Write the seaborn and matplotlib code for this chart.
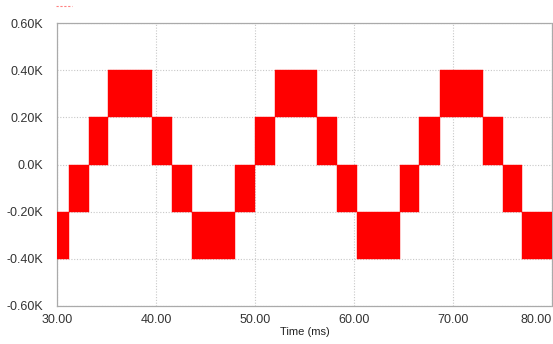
import matplotlib
matplotlib.use("Agg")
import matplotlib.pyplot as plt
import seaborn as sns
import numpy as np
from matplotlib.lines import Line2D

# Data (time in ms, values in K units)
t_edges = [30.0, 31.2, 33.2, 35.2, 39.6, 41.6, 43.6, 48.0, 50.0, 52.0,
           56.3, 58.3, 60.3, 64.6, 66.6, 68.7, 73.0, 75.0, 77.0, 80.0]
lower_level = [-0.4, -0.2, 0.0, 0.2, 0.0, -0.2, -0.4, -0.2, 0.0, 0.2,
               0.0, -0.2, -0.4, -0.2, 0.0, 0.2, 0.0, -0.2, -0.4]
band_height = 0.2
x_ticks = [30, 40, 50, 60, 70, 80]
x_tick_labels = ["30.00", "40.00", "50.00", "60.00", "70.00", "80.00"]
y_ticks = [-0.6, -0.4, -0.2, 0.0, 0.2, 0.4, 0.6]
y_tick_labels = ["-0.60K", "-0.40K", "-0.20K", "0.0K", "0.20K", "0.40K", "0.60K"]

sns.set_style("white")
plt.rcParams['font.family'] = ['Liberation Sans', 'DejaVu Sans']

fig = plt.figure(figsize=(5.53, 3.44), dpi=100)
ax = fig.add_axes([57/553, 1 - 306/344, (552 - 57)/553, (306 - 23)/344])

starts = np.array(t_edges[:-1])
widths = np.diff(t_edges)
ax.bar(starts, band_height, width=widths, bottom=lower_level, align='edge',
       color='#ff0000', edgecolor='#ff0000', linewidth=0.3, zorder=3)

ax.set_xlim(30, 80)
ax.set_ylim(-0.6, 0.6)
ax.set_xticks(x_ticks)
ax.set_xticklabels(x_tick_labels)
ax.set_yticks(y_ticks)
ax.set_yticklabels(y_tick_labels)
ax.tick_params(axis='y', length=0, labelsize=9, colors='#333333', pad=10)
ax.tick_params(axis='x', length=0, labelsize=9, colors='#333333', pad=6)
ax.get_xticklabels()[-1].set_horizontalalignment('right')
ax.grid(True, color='#c8c8c8', linestyle=(0, (1, 1.5)), linewidth=0.8, zorder=0)
for s in ax.spines.values():
    s.set_color('#aaaaaa')
    s.set_linestyle((0, (1, 1)))
    s.set_linewidth(0.9)

ax.set_xlabel("Time (ms)", fontsize=8, color='#222222')
ax.xaxis.set_label_coords(0.5, -0.075)

fig.add_artist(Line2D([56/553, 72/553], [1 - 6/344, 1 - 6/344], color='#ff8080',
                      linewidth=0.8, linestyle=(0, (2, 1.5)), transform=fig.transFigure))

fig.savefig("out.png", dpi=100)
